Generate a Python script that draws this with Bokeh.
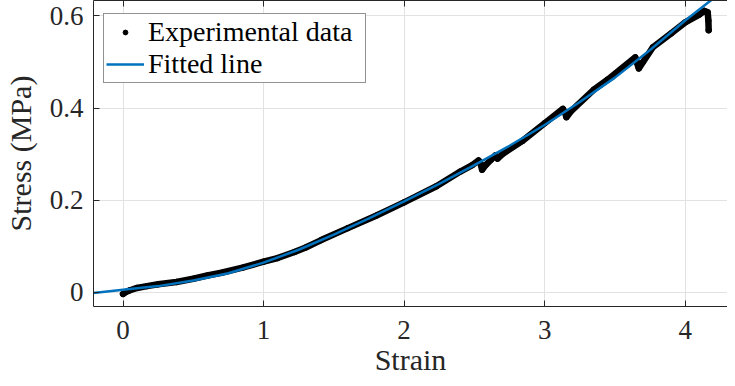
from bokeh.plotting import figure
from bokeh.models import (LinearAxis, FixedTicker, CustomJSTickFormatter, Legend,
                          LegendItem, Range1d)
from bokeh.embed import file_html
from bokeh.resources import INLINE

# ---- data ----
strain_exp = [0.00, 0.02, 0.05, 0.10, 0.17, 0.25, 0.38, 0.50, 0.60, 0.70, 0.85, 1.00,
              1.10, 1.22, 1.30, 1.41, 1.60, 1.80, 2.00, 2.23, 2.40, 2.485, 2.53, 2.545, 2.555,
              2.58, 2.62, 2.65, 2.665, 2.70, 2.84, 3.00, 3.13, 3.145, 3.155, 3.19, 3.35,
              3.45, 3.645, 3.655, 3.67, 3.70, 3.77, 3.90, 4.00, 4.10, 4.137, 4.16, 4.165,
              4.167]
stress_exp = [-0.004, 0.000, 0.004, 0.009, 0.013, 0.017, 0.022, 0.029, 0.036, 0.042, 0.053, 0.066,
              0.074, 0.087, 0.097, 0.113, 0.139, 0.166, 0.195, 0.230, 0.262, 0.276, 0.286, 0.278, 0.266,
              0.276, 0.288, 0.297, 0.290, 0.300, 0.328, 0.367, 0.398, 0.390, 0.380, 0.394, 0.440,
              0.462, 0.510, 0.500, 0.486, 0.500, 0.532, 0.562, 0.586, 0.603, 0.611, 0.608, 0.590,
              0.569]

strain_fit = [-0.21, 0.00, 0.25, 0.50, 0.75, 1.00, 1.25, 1.50, 1.75, 2.00, 2.25, 2.50,
              2.75, 3.00, 3.25, 3.50, 3.75, 4.00, 4.25, 4.30]
stress_fit = [-0.002, 0.005, 0.013, 0.025, 0.041, 0.064, 0.092, 0.125, 0.160, 0.197, 0.235, 0.276,
              0.318, 0.363, 0.413, 0.466, 0.526, 0.590, 0.650, 0.662]

x_ticks = [0, 1, 2, 3, 4]
y_ticks = [0, 0.2, 0.4, 0.6]
series_names = ["Experimental data", "Fitted line"]

FONT = "Liberation Serif"
DARK = "#262626"
GRID = "#e2e2e2"
BLUE = "#0072BD"

p = figure(width=727, height=378, output_backend="svg", toolbar_location=None,
           x_range=Range1d(-0.21, 4.301), y_range=Range1d(-0.0313, 0.6336),
           min_border_left=85, min_border_right=0, min_border_top=0, min_border_bottom=0,
           background_fill_color="white", border_fill_color="white")
p.outline_line_color = None

# axes
for ax, ticks in ((p.xaxis[0], x_ticks), (p.yaxis[0], y_ticks)):
    ax.ticker = FixedTicker(ticks=ticks)
    ax.major_tick_in = 6
    ax.major_tick_out = 0
    ax.minor_tick_line_color = None
    ax.axis_line_color = DARK
    ax.major_tick_line_color = DARK
    ax.major_label_text_font = FONT
    ax.major_label_text_font_size = "27px"
    ax.major_label_text_color = DARK
    ax.axis_label_text_font = FONT
    ax.axis_label_text_font_size = "30px"
    ax.axis_label_text_font_style = "normal"
    ax.axis_label_text_color = DARK

p.xaxis[0].axis_label = "Strain"
p.yaxis[0].axis_label = "Stress (MPa)"
p.xaxis[0].major_label_standoff = 14
p.xaxis[0].axis_label_standoff = 1
p.yaxis[0].major_label_standoff = 10
p.yaxis[0].axis_label_standoff = 10
p.yaxis[0].formatter = CustomJSTickFormatter(code="return String(Number(tick.toFixed(1)));")

# top border of the box, ticks pointing inward, no labels
top = LinearAxis(ticker=FixedTicker(ticks=x_ticks), major_tick_in=6, major_tick_out=0,
                 minor_tick_line_color=None, axis_line_color=DARK, major_tick_line_color=DARK,
                 major_label_text_font_size="1px", major_label_text_color=None,
                 major_label_standoff=0)
p.add_layout(top, "above")

p.xgrid.ticker = FixedTicker(ticks=x_ticks)
p.ygrid.ticker = FixedTicker(ticks=y_ticks)
p.xgrid.grid_line_color = GRID
p.ygrid.grid_line_color = GRID

# data
p.line(strain_exp, stress_exp, line_color="black", line_width=6.5, line_join="round", line_cap="round")
r_exp = p.scatter(strain_exp, stress_exp, size=5.5, color="black")
r_fit = p.line(strain_fit, stress_fit, line_color=BLUE, line_width=2.5)

legend = Legend(items=[LegendItem(label=series_names[0], renderers=[r_exp]),
                       LegendItem(label=series_names[1], renderers=[r_fit])],
                location=(10, 223), margin=0, padding=2, spacing=0,
                label_text_font=FONT, label_text_font_size="28px", label_text_color="black",
                label_height=29, label_width=215, glyph_height=12, glyph_width=38,
                label_standoff=4,
                border_line_color=DARK, border_line_width=1, background_fill_alpha=1)
p.add_layout(legend)

open("out.html", "w").write(file_html(p, INLINE))
